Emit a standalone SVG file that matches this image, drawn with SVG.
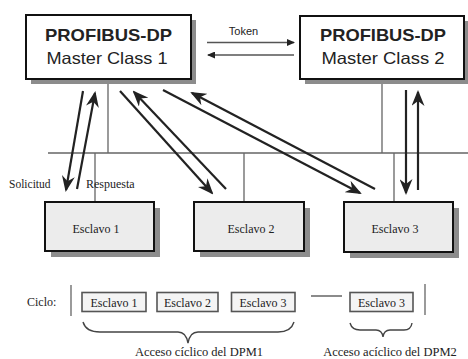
<svg xmlns="http://www.w3.org/2000/svg" width="468" height="359" viewBox="0 0 468 359">
<style>
.master{fill:#fff;stroke:#111;stroke-width:2}
.slave{fill:#ececec;stroke:#111;stroke-width:2}
.shadow{fill:#8c8c8c;stroke:none}
.small{fill:#f4f4f4;stroke:#555;stroke-width:1.6}
.bus{fill:none;stroke:#666;stroke-width:1.3}
.arr{fill:none;stroke:#222;stroke-width:2.2;marker-end:url(#ah)}
.tok{fill:none;stroke:#555;stroke-width:1.3;marker-end:url(#th)}
.brace{fill:none;stroke:#444;stroke-width:1.4}
.sans{font-family:"Liberation Sans",Arial,sans-serif;fill:#222}
.serif{font-family:"Liberation Serif","Times New Roman",serif;fill:#222}
</style>
<defs>
<marker id="ah" markerUnits="userSpaceOnUse" markerWidth="16" markerHeight="13" refX="14" refY="6.5" orient="auto">
<path d="M0,0 L16,6.5 L0,13 L5,6.5 Z" fill="#222"/>
</marker>
<marker id="th" markerUnits="userSpaceOnUse" markerWidth="8" markerHeight="7" refX="7" refY="3.5" orient="auto">
<path d="M0,0 L8,3.5 L0,7 Z" fill="#222"/>
</marker>
</defs>
<rect width="468" height="359" fill="#fff"/>

<g id="connectors">
<path class="bus" d="M48,153 H468 M108,79 V153 M382,79 V153 M95,153 V202 M244,153 V202 M394,153 V202"/>
<path class="tok" d="M207,42.5 H294"/>
<path class="tok" d="M294,55 H208"/>
<path class="arr" d="M83,91 L66,190"/>
<path class="arr" d="M77,189 L95,93"/>
<path class="arr" d="M120,91 L212,193"/>
<path class="arr" d="M226,189 L134,92"/>
<path class="arr" d="M163,90 L360,193"/>
<path class="arr" d="M375,189 L192,93"/>
<path class="arr" d="M406,90 V193"/>
<path class="arr" d="M418,190 V92"/>
</g>

<g id="master1">
<rect class="shadow" x="31" y="20" width="165" height="64"/>
<rect class="master" x="26" y="15" width="165" height="64"/>
<text class="sans" x="108.5" y="40.5" font-size="16.5" font-weight="bold" text-anchor="middle" textLength="127" lengthAdjust="spacingAndGlyphs">PROFIBUS-DP</text>
<text class="sans" x="107" y="63.5" font-size="16.5" text-anchor="middle" textLength="121" lengthAdjust="spacingAndGlyphs">Master Class 1</text>
</g>

<g id="master2">
<rect class="shadow" x="305" y="21" width="164" height="63"/>
<rect class="master" x="300" y="16" width="164" height="63"/>
<text class="sans" x="383" y="41" font-size="16.5" font-weight="bold" text-anchor="middle" textLength="126" lengthAdjust="spacingAndGlyphs">PROFIBUS-DP</text>
<text class="sans" x="383" y="64" font-size="16.5" text-anchor="middle" textLength="123" lengthAdjust="spacingAndGlyphs">Master Class 2</text>
</g>

<g id="token-label">
<text class="sans" x="243.5" y="35" font-size="11" text-anchor="middle">Token</text>
</g>

<g id="labels">
<text class="serif" x="9" y="188" font-size="11.5">Solicitud</text>
<text class="serif" x="86" y="188" font-size="12">Respuesta</text>
</g>

<g id="slave1">
<rect class="shadow" x="51" y="208" width="109" height="49"/>
<rect class="slave" x="45" y="202" width="109" height="49"/>
<text class="serif" x="96" y="233" font-size="12" text-anchor="middle">Esclavo 1</text>
</g>
<g id="slave2">
<rect class="shadow" x="200" y="208" width="110" height="49"/>
<rect class="slave" x="194" y="202" width="110" height="49"/>
<text class="serif" x="251" y="233" font-size="12" text-anchor="middle">Esclavo 2</text>
</g>
<g id="slave3">
<rect class="shadow" x="350" y="208" width="109" height="50"/>
<rect class="slave" x="344" y="202" width="109" height="50"/>
<text class="serif" x="395" y="233" font-size="12" text-anchor="middle">Esclavo 3</text>
</g>

<g id="cycle">
<text class="serif" x="27" y="306" font-size="12">Ciclo:</text>
<path class="bus" d="M71,285 V316 M425,284 V315 M311,296 H342" stroke="#444" stroke-width="1.6"/>
<g id="c1"><rect class="small" x="82" y="292.5" width="64" height="19"/><text class="serif" x="114" y="306.5" font-size="12" text-anchor="middle">Esclavo 1</text></g>
<g id="c2"><rect class="small" x="157" y="292.5" width="61" height="19"/><text class="serif" x="187.5" y="306.5" font-size="12" text-anchor="middle">Esclavo 2</text></g>
<g id="c3"><rect class="small" x="231.5" y="292.5" width="63.5" height="19"/><text class="serif" x="263" y="306.5" font-size="12" text-anchor="middle">Esclavo 3</text></g>
<g id="c4"><rect class="small" x="350" y="292.5" width="63" height="19" fill="#e6e6e6"/><text class="serif" x="381.5" y="306.5" font-size="12" text-anchor="middle">Esclavo 3</text></g>
<path class="brace" d="M83,322 Q86,332 100,332 L178,332 Q186,332 188,343 Q190,332 198,332 L278,332 Q291,332 294,322"/>
<path class="brace" d="M350,323 Q352,330 360,330 L376,330 Q382,330 383,337 Q384,330 390,330 L404,330 Q411,330 412,323"/>
<text class="serif" x="199" y="356" font-size="12.5" text-anchor="middle">Acceso cíclico del DPM1</text>
<text class="serif" x="390" y="356" font-size="12.5" text-anchor="middle">Acceso acíclico del DPM2</text>
</g>
</svg>
